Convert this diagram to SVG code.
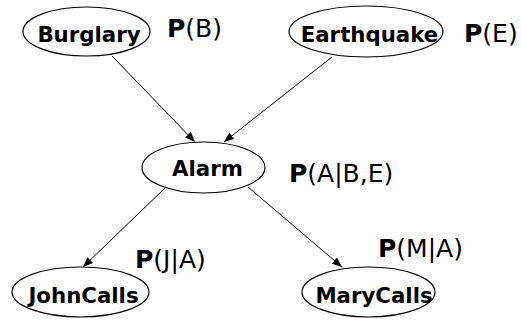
<svg xmlns="http://www.w3.org/2000/svg" width="521" height="320" viewBox="0 0 521 320">
<style>
.node ellipse{fill:#fff;stroke:#000;stroke-width:1.2}
.node text{font-family:"DejaVu Sans",Verdana,sans-serif;font-weight:bold;font-size:21.3px;text-anchor:middle;fill:#000}
.prob{font-family:"DejaVu Sans",Verdana,sans-serif;font-size:25px;fill:#000}
.prob tspan.b{font-weight:bold}
.edge{stroke:#000;stroke-width:1;fill:none;marker-end:url(#arr)}
</style>
<defs>
<marker id="arr" viewBox="0 0 10 8" refX="10" refY="4" markerWidth="10" markerHeight="8" markerUnits="userSpaceOnUse" orient="auto">
<path d="M0,0 L10,4 L0,8 Z" fill="#000"/>
</marker>
</defs>
<g id="connectors">
<line class="edge" x1="112" y1="56" x2="195" y2="142"/>
<line class="edge" x1="332" y1="57" x2="224" y2="142"/>
<line class="edge" x1="165" y1="188" x2="83" y2="267"/>
<line class="edge" x1="248" y1="187" x2="342" y2="267"/>
</g>
<g id="burglary" class="node">
<ellipse cx="86.5" cy="31.5" rx="63.5" ry="24.5"/>
<text x="89" y="42">Burglary</text>
</g>
<g id="earthquake" class="node">
<ellipse cx="366" cy="31.5" rx="77" ry="25.5"/>
<text x="369.5" y="42">Earthquake</text>
</g>
<g id="alarm" class="node">
<ellipse cx="203.5" cy="167.5" rx="61.5" ry="25.5"/>
<text x="207.5" y="176">Alarm</text>
</g>
<g id="johncalls" class="node">
<ellipse cx="80.5" cy="292" rx="68.5" ry="25"/>
<text x="83.5" y="303">JohnCalls</text>
</g>
<g id="marycalls" class="node">
<ellipse cx="368.5" cy="292" rx="66.5" ry="25"/>
<text x="374" y="303">MaryCalls</text>
</g>
<text class="prob" x="167" y="37"><tspan class="b">P</tspan>(B)</text>
<text class="prob" x="464" y="42"><tspan class="b">P</tspan>(E)</text>
<text class="prob" x="289" y="182"><tspan class="b">P</tspan>(A|B,E)</text>
<text class="prob" x="135" y="268"><tspan class="b">P</tspan>(J|A)</text>
<text class="prob" x="378" y="257"><tspan class="b">P</tspan>(M|A)</text>
</svg>
